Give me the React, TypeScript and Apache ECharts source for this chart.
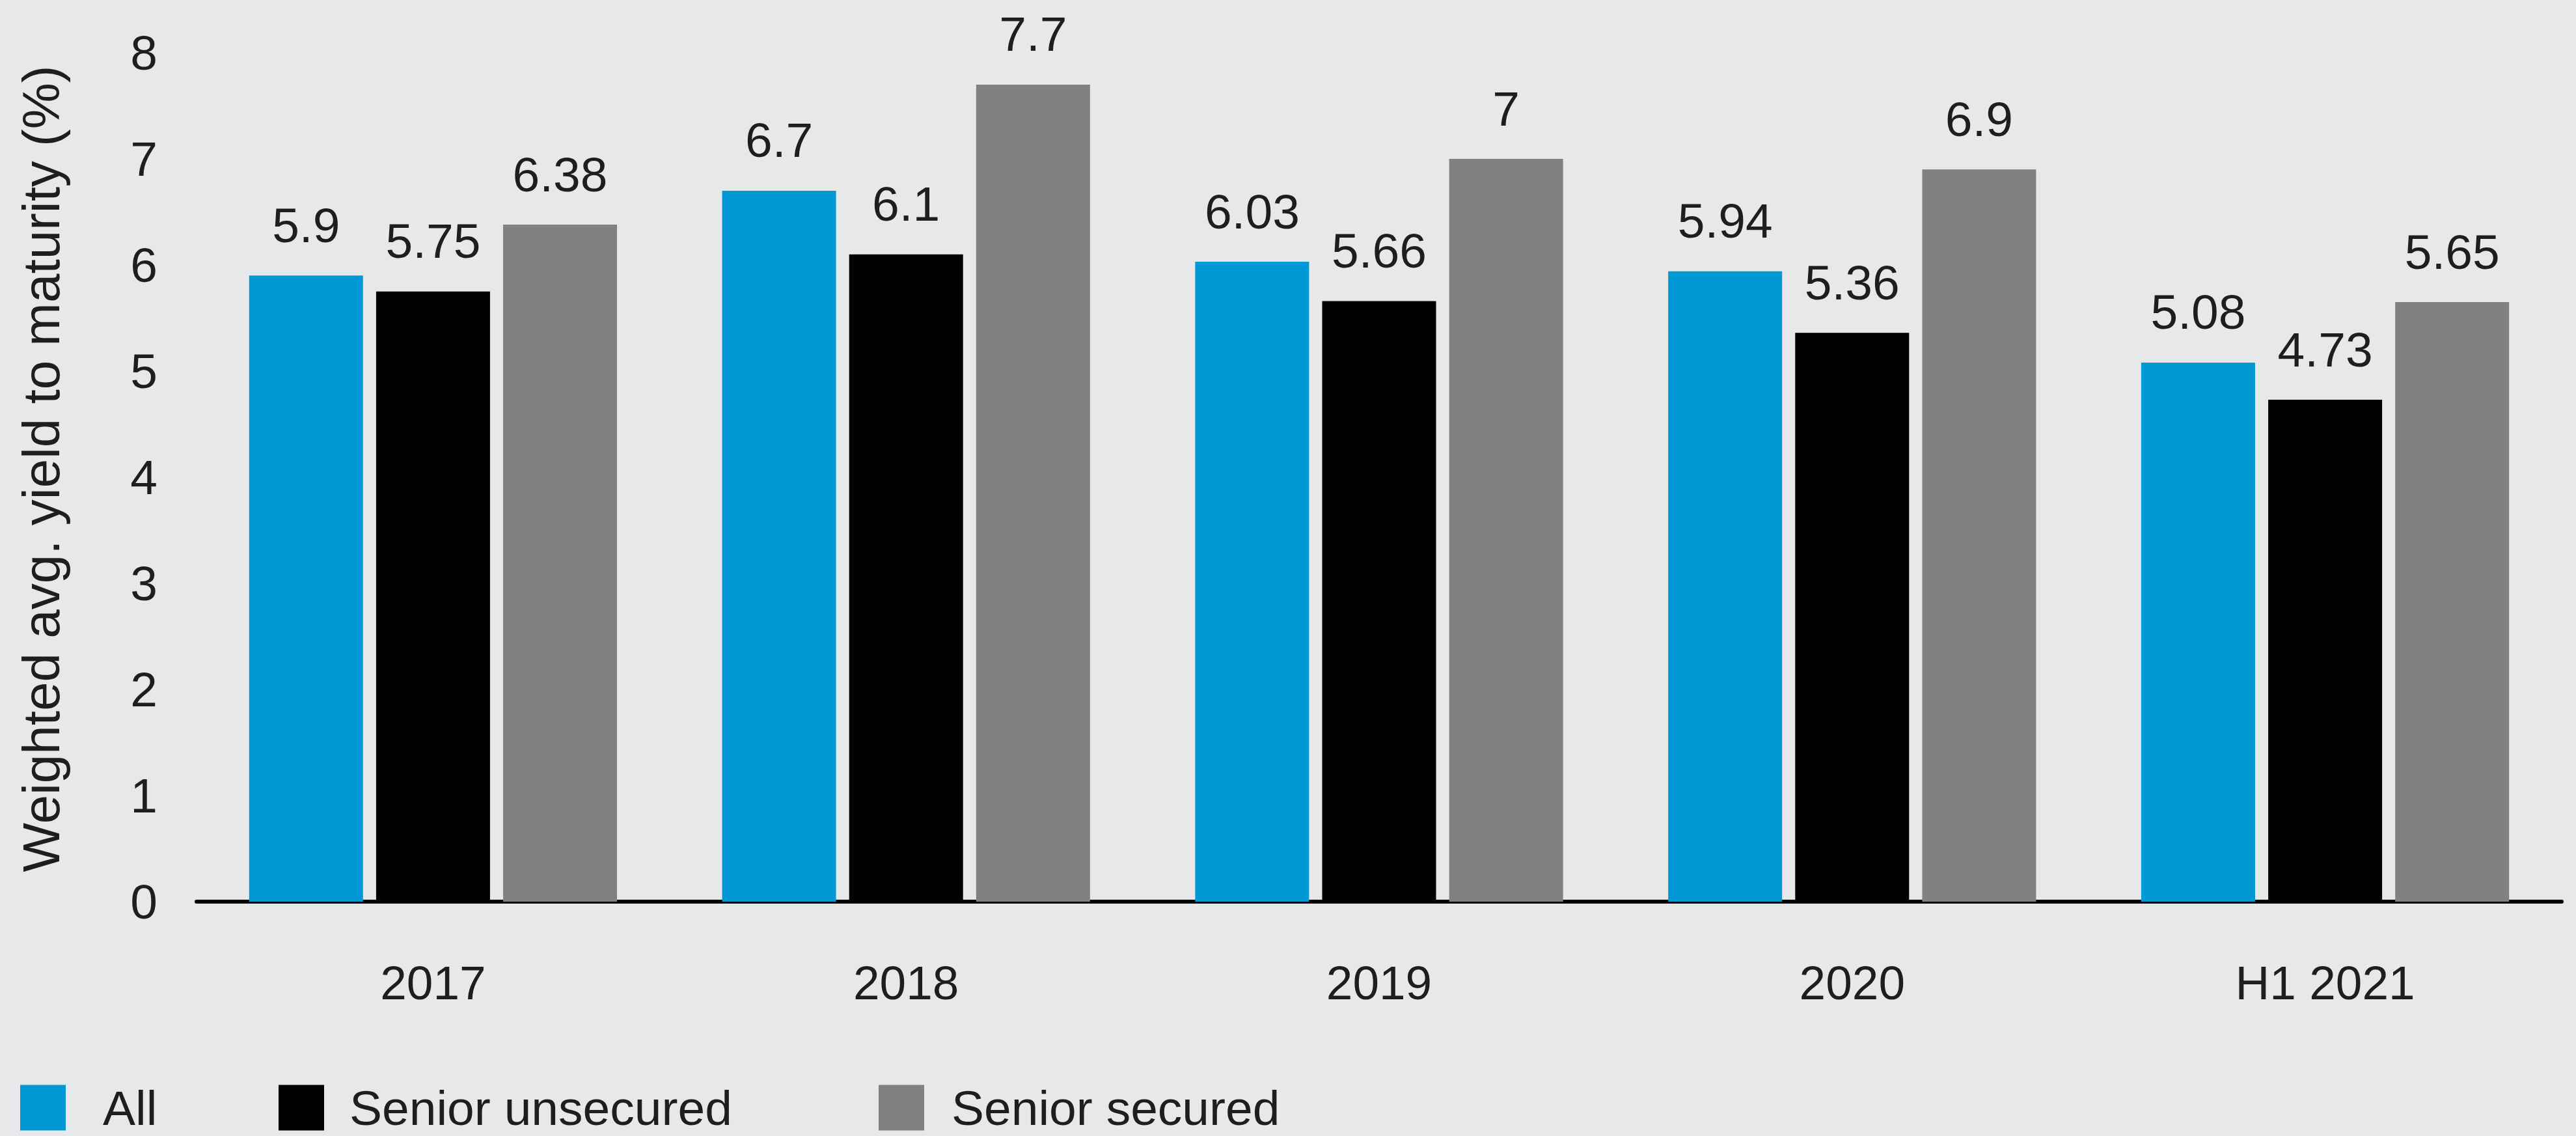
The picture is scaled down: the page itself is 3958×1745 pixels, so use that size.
import React, { useEffect, useRef } from "react";
import * as echarts from "echarts";

const categories = ["2017", "2018", "2019", "2020", "H1 2021"];
const allValues = [5.9, 6.7, 6.03, 5.94, 5.08];
const unsecuredValues = [5.75, 6.1, 5.66, 5.36, 4.73];
const securedValues = [6.38, 7.7, 7, 6.9, 5.65];
const seriesNames = ["All", "Senior unsecured", "Senior secured"];
const yTicks = [0, 1, 2, 3, 4, 5, 6, 7, 8];
const yTitle = "Weighted avg. yield to maturity (%)";

const FONT = "'Liberation Sans', Arial, Helvetica, sans-serif";
const TEXT = "#1e1e1c";
const BG = "#e7e8ea";
const COLORS = ["#0099d5", "#000000", "#818181"];

export default function App() {
  const ref = useRef<HTMLDivElement>(null);

  useEffect(() => {
    document.body.style.margin = "0";
    document.body.style.background = BG;
    if (!ref.current) return;
    const chart = echarts.init(ref.current, null, { renderer: "svg" });

    const mkSeries = (name: string, data: number[], color: string) => ({
      name,
      type: "bar",
      data,
      barWidth: 175,
      barGap: "11.5%",
      itemStyle: { color },
      label: {
        show: true,
        position: "top",
        distance: 40,
        color: TEXT,
        fontSize: 75,
        fontFamily: FONT,
      },
    });

    const legendLefts = [31, 428, 1350];
    const legendTextPads = [52, 34, 37];

    chart.setOption({
      animation: false,
      backgroundColor: BG,
      textStyle: { fontFamily: FONT, color: TEXT },
      grid: { left: 302, right: 22, top: 81, bottom: 360, containLabel: false },
      legend: seriesNames.map((n, i) => ({
        data: [n],
        left: legendLefts[i],
        top: 1664,
        itemWidth: 70,
        itemHeight: 70,
        itemGap: 0,
        icon: "rect",
        padding: 0,
        selectedMode: false,
        textStyle: {
          fontSize: 75,
          lineHeight: 60,
          fontFamily: FONT,
          color: TEXT,
          padding: [0, 0, 0, legendTextPads[i]],
        },
      })),
      xAxis: {
        type: "category",
        data: categories,
        axisLine: { show: true, lineStyle: { color: "#000000", width: 6 } },
        axisTick: { show: false },
        axisLabel: {
          margin: 88,
          fontSize: 73,
          fontFamily: FONT,
          color: TEXT,
        },
      },
      yAxis: {
        type: "value",
        min: yTicks[0],
        max: yTicks[yTicks.length - 1],
        interval: 1,
        name: yTitle,
        nameLocation: "middle",
        nameGap: 199,
        nameTextStyle: {
          fontSize: 80,
          fontFamily: FONT,
          color: TEXT,
          padding: [0, 0, 0, 26],
        },
        axisLine: { show: false },
        axisTick: { show: false },
        splitLine: { show: false },
        axisLabel: {
          margin: 60,
          fontSize: 75,
          fontFamily: FONT,
          color: TEXT,
        },
      },
      series: [
        mkSeries(seriesNames[0], allValues, COLORS[0]),
        mkSeries(seriesNames[1], unsecuredValues, COLORS[1]),
        mkSeries(seriesNames[2], securedValues, COLORS[2]),
      ],
    });

    return () => chart.dispose();
  }, []);

  return <div ref={ref} style={{ width: 3958, height: 1745 }} />;
}
